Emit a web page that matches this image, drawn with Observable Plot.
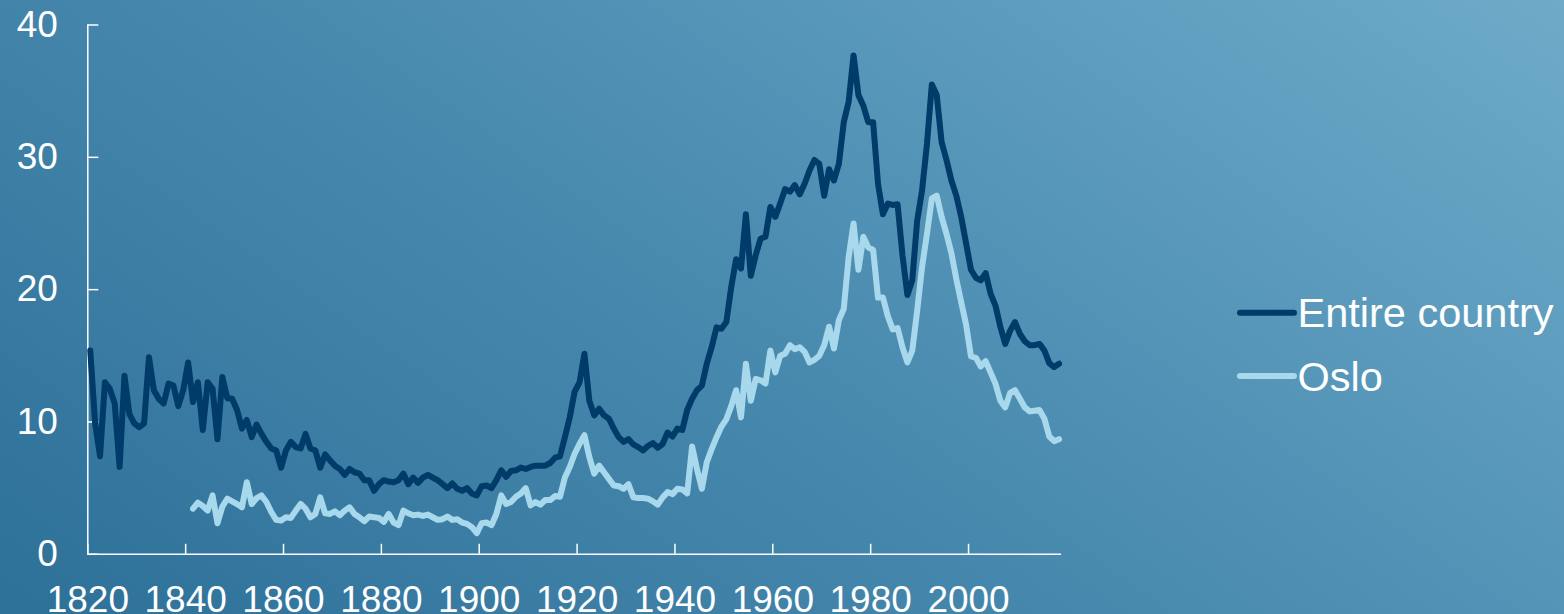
<!DOCTYPE html>
<html><head><meta charset="utf-8">
<script src="https://cdn.jsdelivr.net/npm/d3@7"></script>
<script src="https://cdn.jsdelivr.net/npm/@observablehq/plot@0.6"></script>
<style>
html,body{margin:0;padding:0;}
body{width:1564px;height:614px;overflow:hidden;position:relative;
  background:linear-gradient(35deg,#2d7098 0%,#4a8bb0 50%,#6eabc9 100%);
  font-family:"Liberation Sans",Arial,sans-serif;}
#chart{position:absolute;left:0;top:0;}
#legend{position:absolute;left:0;top:0;}
</style></head><body>
<div id="chart"></div>
<svg id="legend" width="1564" height="614"></svg>
<script>
// Series names and colours
const seriesNames = ["Entire country", "Oslo"];
const seriesColors = ["#003b69", "#a8d8ec"];

// Tick values
const xTicks = [1820, 1840, 1860, 1880, 1900, 1920, 1940, 1960, 1980, 2000];
const yTicks = [0, 10, 20, 30, 40];

// Entire country, yearly values from 1820
const entireStart = 1820;
const entireValues = [
  15.4, 9.9, 7.4, 13.0, 12.5, 11.4, 6.6, 13.5, 10.6, 9.9,        // 1820s
  9.6, 9.9, 14.9, 12.4, 11.75, 11.4, 12.9, 12.75, 11.2, 12.4,    // 1830s
  14.5, 11.5, 13.0, 9.4, 13.0, 12.5, 8.7, 13.4, 11.8, 11.75,     // 1840s
  10.9, 9.5, 10.15, 8.85, 9.8, 9.1, 8.5, 8.0, 7.85, 6.55,        // 1850s
  7.85, 8.5, 8.1, 8.0, 9.1, 8.0, 7.85, 6.55, 7.55, 7.1,          // 1860s
  6.7, 6.45, 6.0, 6.45, 6.2, 6.1, 5.6, 5.6, 4.8, 5.3,            // 1870s
  5.6, 5.5, 5.45, 5.6, 6.1, 5.3, 5.8, 5.4, 5.8, 6.0,             // 1880s
  5.8, 5.6, 5.3, 5.0, 5.35, 4.95, 4.8, 5.0, 4.6, 4.45,           // 1890s
  5.15, 5.2, 5.0, 5.6, 6.35, 5.85, 6.3, 6.35, 6.55, 6.45,        // 1900s
  6.6, 6.7, 6.7, 6.7, 6.9, 7.3, 7.4, 8.85, 10.35, 12.3,          // 1910s
  13.0, 15.15, 11.6, 10.5, 11.0, 10.5, 10.25, 9.5, 8.85, 8.5,    // 1920s
  8.7, 8.3, 8.1, 7.85, 8.2, 8.4, 8.05, 8.35, 9.2, 8.9,           // 1930s
  9.5, 9.4, 10.9, 11.75, 12.4, 12.75, 14.4, 15.65, 17.15, 17.05, // 1940s
  17.55, 20.2, 22.3, 21.6, 25.7, 21.05, 22.6, 23.85, 24.0, 26.25,// 1950s
  25.5, 26.5, 27.6, 27.4, 27.9, 27.2, 28.0, 29.0, 29.8, 29.5,    // 1960s
  27.1, 29.1, 28.25, 29.5, 32.65, 34.2, 37.7, 34.7, 33.9, 32.65, // 1970s
  32.65, 28.0, 25.7, 26.5, 26.4, 26.45, 22.6, 19.6, 20.7, 25.2,  // 1980s
  27.5, 31.0, 35.5, 34.7, 31.15, 29.8, 28.25, 27.1, 25.5, 23.5,  // 1990s
  21.5, 20.9, 20.7, 21.25, 19.7, 18.8, 17.2, 15.9, 16.9, 17.55,  // 2000s
  16.65, 16.1, 15.8, 15.8, 15.9, 15.4, 14.45, 14.15, 14.4        // 2010-2018
];

// Oslo, yearly values from 1841
const osloStart = 1841;
const osloValues = [
  3.45, 3.9, 3.65, 3.3, 4.45, 2.35, 3.6, 4.2, 4.0,               // 1841-1849
  3.8, 3.55, 5.45, 3.8, 4.25, 4.45, 3.95, 3.2, 2.6, 2.55,        // 1850s
  2.8, 2.75, 3.3, 3.8, 3.45, 2.8, 3.05, 4.3, 3.1, 3.05,          // 1860s
  3.25, 2.95, 3.3, 3.55, 3.05, 2.8, 2.5, 2.85, 2.8, 2.75,        // 1870s
  2.45, 3.05, 2.4, 2.2, 3.3, 3.1, 2.95, 3.0, 2.9, 3.0,           // 1880s
  2.8, 2.6, 2.65, 2.85, 2.6, 2.65, 2.4, 2.3, 2.05, 1.6,          // 1890s
  2.35, 2.4, 2.2, 3.05, 4.45, 3.8, 3.95, 4.35, 4.6, 5.0,         // 1900s
  3.7, 3.95, 3.75, 4.1, 4.1, 4.4, 4.35, 5.8, 6.6, 7.6,           // 1910s
  8.35, 9.0, 7.35, 6.1, 6.7, 6.2, 5.7, 5.2, 5.15, 4.95,          // 1920s
  5.3, 4.3, 4.25, 4.25, 4.2, 4.0, 3.75, 4.3, 4.7, 4.55,          // 1930s
  4.95, 4.9, 4.6, 8.15, 6.45, 4.95, 6.95, 7.95, 8.85, 9.65,      // 1940s
  10.2, 11.2, 12.4, 10.35, 14.4, 11.6, 13.25, 13.15, 12.9, 15.4, // 1950s
  13.75, 15.0, 15.15, 15.8, 15.5, 15.65, 15.3, 14.5, 14.7, 15.0, // 1960s
  15.8, 17.2, 15.55, 17.7, 18.55, 22.45, 25.0, 21.5, 24.0, 23.2, // 1970s
  23.0, 19.4, 19.4, 18.0, 17.0, 17.1, 15.65, 14.5, 15.4, 18.4,   // 1980s
  21.7, 24.2, 26.9, 27.1, 25.5, 24.2, 22.75, 20.8, 19.05, 17.35, // 1990s
  14.95, 14.85, 14.2, 14.6, 13.75, 12.9, 11.6, 11.1, 12.2, 12.4, // 2000s
  11.75, 11.1, 10.8, 10.85, 10.9, 10.25, 8.9, 8.55, 8.7          // 2010-2018
];

const entireData = entireValues.map((v, i) => ({year: entireStart + i, value: v}));
const osloData = osloValues.map((v, i) => ({year: osloStart + i, value: v}));

const font = "'Liberation Sans', Arial, sans-serif";

const chart = Plot.plot({
  width: 1564,
  height: 614,
  marginLeft: 87.3,
  marginRight: 503,
  marginTop: 24.5,
  marginBottom: 60.2,
  style: {background: "transparent", color: "white", fontFamily: font, fontSize: "37px", overflow: "visible"},
  x: {domain: [1820, 2019], label: null},
  y: {domain: [0, 40], label: null},
  marks: [
    Plot.axisY({ticks: yTicks, tickSize: -11, tickPadding: 41, strokeWidth: 1.5, fontSize: 37, label: null, tickFormat: d => String(d)}),
    Plot.axisX({ticks: xTicks, tickSize: -10, tickPadding: 41, strokeWidth: 1.5, fontSize: 37, label: null, tickFormat: d => String(d)}),
    Plot.ruleX([1820], {stroke: "white", strokeWidth: 1.5}),
    Plot.ruleY([0], {stroke: "white", strokeWidth: 1.5}),
    // values are plotted at the middle of each year
    Plot.line(entireData, {x: d => d.year + 0.5, y: "value", stroke: seriesColors[0], strokeWidth: 6, strokeLinejoin: "round", strokeLinecap: "round"}),
    Plot.line(osloData, {x: d => d.year + 0.5, y: "value", stroke: seriesColors[1], strokeWidth: 6, strokeLinejoin: "round", strokeLinecap: "round"})
  ]
});
document.getElementById("chart").appendChild(chart);

// Legend
const legend = d3.select("#legend");
const legendRows = [312.7, 376];
seriesNames.forEach((name, i) => {
  const y = legendRows[i];
  legend.append("line").attr("x1", 1240).attr("x2", 1294).attr("y1", y).attr("y2", y)
    .attr("stroke", seriesColors[i]).attr("stroke-width", 6).attr("stroke-linecap", "round");
  legend.append("text").attr("x", 1297.5).attr("y", y + 14.5)
    .attr("fill", "white").attr("font-family", font).attr("font-size", 41.5).text(name);
});
</script>
</body></html>
